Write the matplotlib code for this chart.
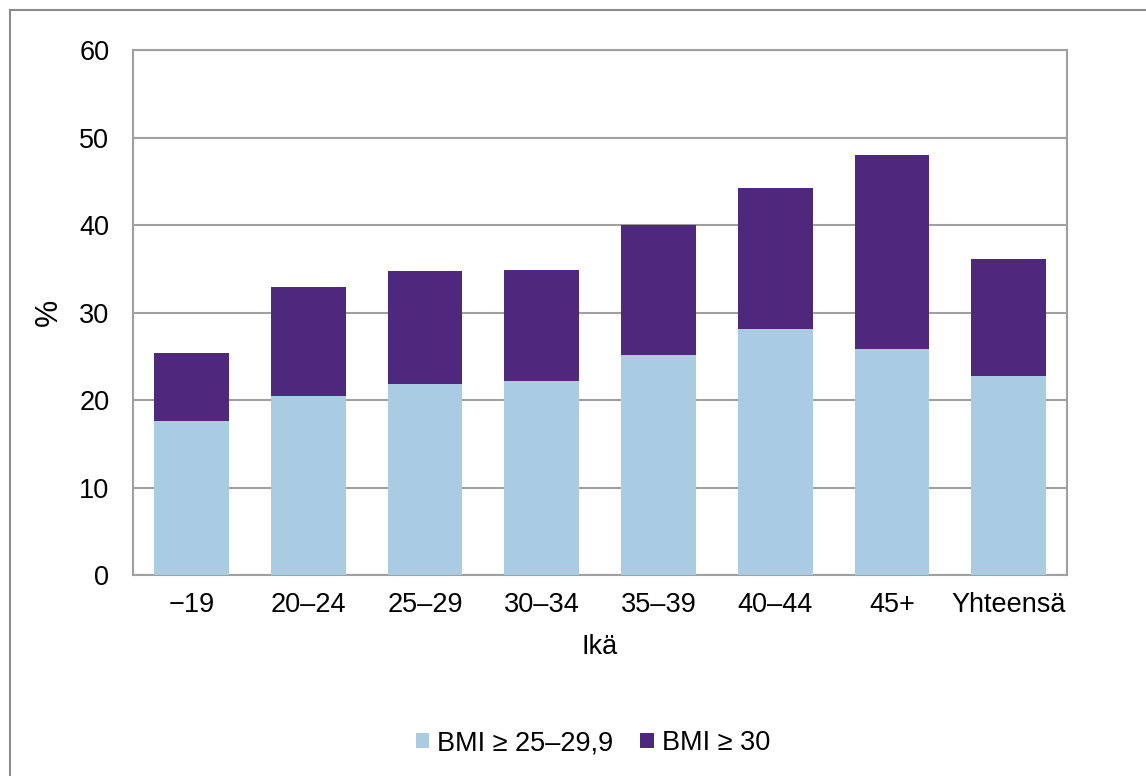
import matplotlib
matplotlib.use("Agg")
import matplotlib.pyplot as plt
from matplotlib.lines import Line2D
from matplotlib.patches import Patch
import numpy as np

plt.rcParams['font.family'] = ['Liberation Sans', 'DejaVu Sans']

categories = ["\u221219", "20\u201324", "25\u201329", "30\u201334", "35\u201339", "40\u201344", "45+", "Yhteensä"]
bmi_25_29 = [17.6, 20.5, 21.8, 22.2, 25.1, 28.1, 25.8, 22.7]
bmi_30 = [7.8, 12.4, 12.9, 12.7, 14.9, 16.1, 22.2, 13.4]

light = "#A9CCE3"
dark = "#4E287C"
grid_col = "#A0A0A0"
fs = 19.5

fig = plt.figure(figsize=(11.46, 7.76), dpi=100)
ax = fig.add_axes([0.1161, 0.259, 0.815, 0.6765])

x = np.arange(len(categories))
ax.bar(x, bmi_25_29, width=0.64, color=light, zorder=3)
ax.bar(x, bmi_30, width=0.64, bottom=bmi_25_29, color=dark, zorder=3)

ax.set_xlim(-0.5, len(categories) - 0.5)
ax.set_ylim(0, 60)
ax.set_yticks(range(0, 61, 10))
ax.yaxis.grid(True, color=grid_col, linewidth=1.5, zorder=0)
ax.set_axisbelow(True)

for s in ax.spines.values():
    s.set_color(grid_col)
    s.set_linewidth(1.5)

ax.set_xticks(x)
ax.set_xticklabels(categories)
ax.tick_params(axis='both', length=0, labelsize=fs)
ax.tick_params(axis='y', pad=17)
ax.tick_params(axis='x', pad=12)

ax.set_xlabel("Ikä", fontsize=fs, labelpad=12)
ax.set_ylabel("%", fontsize=22, labelpad=11)

handles = [Patch(facecolor=light), Patch(facecolor=dark)]
fig.legend(handles, ["BMI \u2265 25\u201329,9", "BMI \u2265 30"], loc='center',
           bbox_to_anchor=(593 / 1146, 1 - 743 / 776), ncol=2, frameon=False,
           fontsize=fs, handlelength=0.5, handleheight=0.5,
           handletextpad=0.3, columnspacing=1.0)

# outer frame (only top and left edges visible in the source)
fig.add_artist(Line2D([10 / 1146, 1.0], [1 - 10 / 776] * 2, color="#8C8C8C", linewidth=1.5,
                      transform=fig.transFigure))
fig.add_artist(Line2D([10 / 1146] * 2, [0.0, 1 - 10 / 776], color="#8C8C8C", linewidth=1.5,
                      transform=fig.transFigure))

fig.savefig("out.png", dpi=100)
